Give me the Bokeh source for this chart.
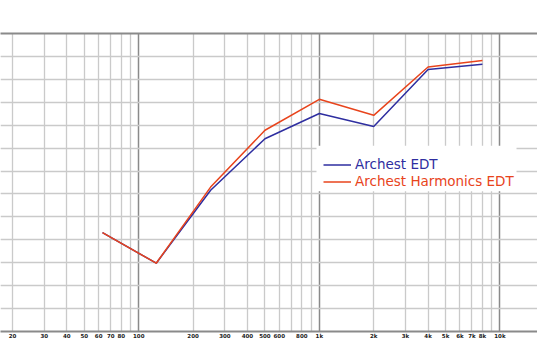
import math
from bokeh.plotting import figure
from bokeh.models import (FixedTicker, Grid, Legend, LegendItem, Range1d, LogAxis)
from bokeh.embed import file_html
from bokeh.resources import INLINE

# ---- data ----
freqs = [63, 125, 250, 500, 1000, 2000, 4000, 8000]
edt_archest = [4.31, 2.98, 6.16, 8.41, 9.51, 8.94, 11.43, 11.66]
edt_harmonics = [4.31, 2.98, 6.30, 8.78, 10.13, 9.43, 11.54, 11.82]

label_ticks = [20, 30, 40, 50, 60, 70, 80, 100, 200, 300, 400, 500, 600, 800,
               1000, 2000, 3000, 4000, 5000, 6000, 7000, 8000, 10000]
label_texts = ["20", "30", "40", "50", "60", "70", "80", "100", "200", "300",
               "400", "500", "600", "800", "1k", "2k", "3k", "4k", "5k", "6k",
               "7k", "8k", "10k"]
minor_grid = [20, 30, 40, 50, 60, 70, 80, 90,
              200, 300, 400, 500, 600, 700, 800, 900,
              2000, 3000, 4000, 5000, 6000, 7000, 8000, 9000]
decade_grid = [100, 1000, 10000]
y_lines = list(range(1, 13))

BLUE = "#2e2ea0"
RED = "#e8441c"
DARK = "#8a8a8a"
LIGHT = "#cacaca"

XMIN, XMAX = 17.16, 16144
W, H = 537, 360
FW = W

p = figure(width=W, height=H, x_axis_type="log",
           x_range=Range1d(XMIN, XMAX), y_range=Range1d(0, 13),
           y_axis_location=None, output_backend="svg", toolbar_location=None,
           min_border_left=0, min_border_right=0, min_border_top=33,
           min_border_bottom=29)
p.outline_line_color = None
p.background_fill_color = "white"
p.border_fill_color = "white"

# grids
p.xgrid.ticker = FixedTicker(ticks=minor_grid)
p.xgrid.grid_line_color = LIGHT
p.xgrid.grid_line_width = 1.3
g_dec = Grid(dimension=0, ticker=FixedTicker(ticks=decade_grid),
             grid_line_color=DARK, grid_line_width=1.5)
p.add_layout(g_dec)
g_y = Grid(dimension=1, ticker=FixedTicker(ticks=y_lines),
           grid_line_color=LIGHT, grid_line_width=1.3)
p.add_layout(g_y)

# top border as an unlabeled axis
top = LogAxis(ticker=FixedTicker(ticks=[], minor_ticks=[]),
              axis_line_color=DARK, axis_line_width=2,
              major_tick_line_color=None, minor_tick_line_color=None,
              major_label_text_font_size="0px")
p.add_layout(top, "above")

# x axis
ax = p.below[0]
ax.ticker = FixedTicker(ticks=label_ticks, minor_ticks=[])
ax.major_label_overrides = {t: s for t, s in zip(label_ticks, label_texts)}
ax.axis_line_color = DARK
ax.axis_line_width = 2
ax.major_tick_line_color = None
ax.minor_tick_line_color = None
ax.major_tick_out = 0
ax.major_label_standoff = 1
ax.major_label_text_font = "DejaVu Sans"
ax.major_label_text_font_size = "5.5px"
ax.major_label_text_font_style = "bold"
ax.major_label_text_color = "#1a1a1a"

# white legend box (screen position converted to data coords)
lo, hi = math.log10(XMIN), math.log10(XMAX)
def px2x(px):
    return 10 ** (lo + px / FW * (hi - lo))
p.quad(left=[px2x(316)], right=[px2x(516)], bottom=[6.12], top=[8.1],
       fill_color="white", line_color=None)

r_blue = p.line(freqs, edt_archest, line_color=BLUE, line_width=1.5)
r_red = p.line(freqs, edt_harmonics, line_color=RED, line_width=1.5)

common = dict(orientation="vertical", padding=0, margin=0, spacing=0,
              glyph_width=28, glyph_height=17, label_height=17,
              label_standoff=4, label_text_font="DejaVu Sans",
              label_text_font_size="13.5px", background_fill_alpha=0,
              border_line_color=None)
leg1 = Legend(items=[LegendItem(label="Archest EDT", renderers=[r_blue])],
              location=(323, 158.5), label_text_color=BLUE, **common)
leg2 = Legend(items=[LegendItem(label="Archest Harmonics EDT", renderers=[r_red])],
              location=(323, 141.5), label_text_color=RED, **common)
p.add_layout(leg1)
p.add_layout(leg2)

open("out.html", "w").write(file_html(p, INLINE))
